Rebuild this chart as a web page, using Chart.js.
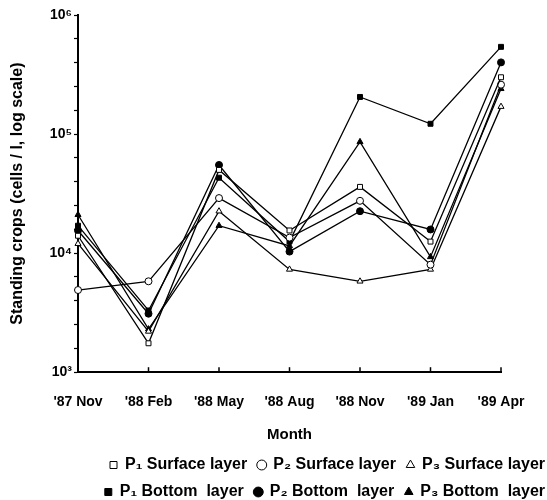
<!DOCTYPE html>
<html><head><meta charset="utf-8">
<script src="https://cdn.jsdelivr.net/npm/chart.js@4/dist/chart.umd.min.js"></script>
<style>html,body{margin:0;padding:0;background:#fff}#wrap{width:547px;height:500px;position:relative}</style>
</head><body><div id="wrap"><canvas id="c"></canvas></div>
<script>
const months = ["'87 Nov", "'88 Feb", "'88 May", "'88 Aug", "'88 Nov", "'89 Jan", "'89 Apr"];
const p1Surface = [14000, 1750, 50000, 15500, 36000, 12500, 300000];
const p2Surface = [4900, 5800, 29000, 13500, 27500, 8000, 260000];
const p3Surface = [12000, 2200, 22500, 7300, 5800, 7300, 170000];
const p1Bottom  = [17000, 3300, 43000, 12500, 205000, 122000, 540000];
const p2Bottom  = [15500, 3100, 55000, 10300, 22500, 15800, 400000];
const p3Bottom  = [21000, 2300, 17000, 11500, 86000, 9300, 240000];
const yTickValues = [1000, 1585, 2512, 3981, 6310, 10000, 15850, 25120, 39810, 63100,
                     100000, 158500, 251200, 398100, 631000, 1000000];
const decadeLabels = {1000: '10³', 10000: '10⁴', 100000: '10⁵', 1000000: '10⁶'};

const FONT = "'Liberation Sans', Arial, sans-serif";

function ds(label, data, style, filled) {
  return {
    label, data, yAxisID: 'y',
    borderColor: '#000', backgroundColor: filled ? '#000' : '#fff',
    borderWidth: 1.3, pointStyle: style, pointRadius: 3.5,
    pointBorderWidth: 1, pointBackgroundColor: filled ? '#000' : '#fff',
    pointBorderColor: '#000', tension: 0, fill: false
  };
}

const innerXTicks = {
  id: 'innerXTicks',
  afterDraw(chart) {
    const x = chart.scales.x, ctx = chart.ctx, b = chart.chartArea.bottom;
    ctx.save();
    ctx.strokeStyle = '#000'; ctx.lineWidth = 1.5;
    months.forEach((m, i) => {
      const px = x.getPixelForValue(i);
      ctx.beginPath(); ctx.moveTo(px, b); ctx.lineTo(px, b - 5); ctx.stroke();
    });
    ctx.restore();
  }
};

new Chart(document.getElementById('c'), {
  type: 'line',
  data: {
    labels: months,
    datasets: [
      ds('P₁ Surface layer', p1Surface, 'rect', false),
      ds('P₂ Surface layer', p2Surface, 'circle', false),
      ds('P₃ Surface layer', p3Surface, 'triangle', false),
      ds('P₁ Bottom  layer', p1Bottom, 'rect', true),
      ds('P₂ Bottom  layer', p2Bottom, 'circle', true),
      ds('P₃ Bottom  layer', p3Bottom, 'triangle', true)
    ]
  },
  options: {
    responsive: true, maintainAspectRatio: false, animation: false,
    layout: { padding: { left: 0, right: -9, top: 15, bottom: -10 } },
    plugins: {
      legend: {
        position: 'bottom', align: 'end',
        labels: {
          usePointStyle: true, boxWidth: 7, boxHeight: 7, padding: 11,
          color: '#000', font: { family: FONT, size: 16, weight: 'bold' }
        }
      },
      tooltip: { enabled: false }
    },
    scales: {
      x: {
        type: 'category', offset: false,
        border: { display: true, color: '#000', width: 2 },
        grid: { display: true, drawOnChartArea: false, drawTicks: false },
        ticks: { color: '#000', padding: 22, maxRotation: 0, autoSkip: false,
                 font: { family: FONT, size: 14, weight: 'bold' } },
        title: { display: true, text: 'Month', color: '#000', padding: { top: -7, bottom: 2 },
                 font: { family: FONT, size: 15, weight: 'bold' } }
      },
      y: {
        type: 'logarithmic', min: 1000, max: 1000000,
        afterBuildTicks(scale) { scale.ticks = yTickValues.map(v => ({ value: v })); },
        afterFit(scale) { scale.width = 78; },
        border: { display: true, color: '#000', width: 2 },
        grid: { display: true, drawOnChartArea: false, drawTicks: true, tickLength: 4, color: '#000', tickWidth: 1.2 },
        ticks: { color: '#000', padding: 2, autoSkip: false,
                 font: { family: FONT, size: 14, weight: 'bold' },
                 callback: (v) => decadeLabels[v] || '' },
        title: { display: true, text: 'Standing crops (cells / l, log scale)', color: '#000',
                 padding: { top: 8, bottom: 0 },
                 font: { family: FONT, size: 16, weight: 'bold' } }
      },
      yR: {
        type: 'linear', position: 'right', display: true,
        afterFit(scale) { scale.width = 55; },
        border: { display: false }, grid: { display: false },
        ticks: { display: false }
      }
    }
  },
  plugins: [innerXTicks]
});
</script></body></html>
